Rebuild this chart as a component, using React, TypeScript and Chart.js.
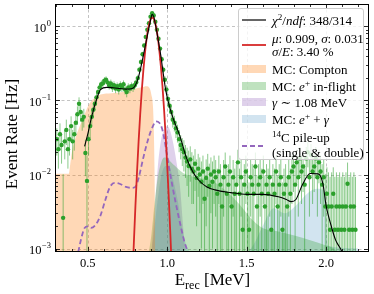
import React, { useEffect, useRef } from 'react';
import { Chart, registerables } from 'chart.js';

Chart.register(...registerables);

// ---------- data ----------
const BIN_START = 0.305;
const BIN_WIDTH = 0.01;

const RATE = [
  // 0.305 - 0.495
  0.03, 0.022, 0.035, 0.025, 0.0026, 0.028, 0.04, 0.022, 0.03, 0.045,
  0.028, 0.035, 0.05, 0.065, 0.09, 0.07, 0.055, 0.06, 0.0195, 0.0082,
  // 0.505 - 0.585
  0.03, 0.045, 0.06, 0.075, 0.09, 0.11, 0.13, 0.15, 0.165,
  // 0.595 - 0.805
  0.17, 0.185, 0.19, 0.175, 0.16, 0.17, 0.15, 0.16, 0.145, 0.155, 0.14,
  0.16, 0.15, 0.165, 0.14, 0.13, 0.15, 0.145, 0.155, 0.15, 0.16, 0.175,
  // 0.815 - 1.095
  0.2, 0.26, 0.33, 0.42, 0.55, 0.72, 0.9, 1.1, 1.35, 1.5,
  1.4, 1.15, 0.9, 0.68, 0.5, 0.36, 0.26, 0.19, 0.14, 0.105,
  0.085, 0.07, 0.055, 0.05, 0.042, 0.037, 0.03, 0.025, 0.022,
  // 1.105 - 1.295
  0.02, 0.017, 0.015, 0.013, 0.016, 0.012, 0.011, 0.014, 0.009, 0.012,
  0.01, 0.008, 0.011, 0.0047, 0.009, 0.012, 0.007, 0.01, 0.008, 0.011,
  // 1.305 - 1.775
  0.0092, 0.0055, 0.011, 0.0073, 0.0037, 0.0092, 0.0128, 0.0055, 0.0073, 0.011,
  0.0037, 0.0092, 0.0055, 0.0073, 0.0146, 0.0055, 0.0092, 0.0018, 0.0073, 0.011,
  0.0055, 0.0018, 0.0092, 0.0073, 0.0055, 0.0128, 0.0037, 0.0073, 0.0092, 0.0055,
  0.011, 0.0037, 0.0073, 0.0055, 0.0092, 0.0018, 0.0073, 0.0055, 0.011, 0.0037,
  0.0073, 0.0092, 0.0018, 0.0055, 0.0073, 0.0037, 0.0092, 0.0055,
  // 1.785 - 1.995
  0.011, 0.0128, 0.0073, 0.0146, 0.0092, 0.0165, 0.011, 0.0128, 0.0073, 0.0165,
  0.02, 0.0092, 0.0183, 0.011, 0.0128, 0.0165, 0.0092, 0.0146, 0.011, 0.0073,
  0.0092, 0.0037,
  // 2.005 - 2.185
  0.0055, 0.0037, 0.0018, 0.0037, 0.0055, 0.0018, 0.0037, 0.0018, 0.0037, 0.0018,
  0.0037, 0.0018, 0.0037, 0.0075, 0.0018, 0.0037, 0.0018, 0.0037, 0.0018,
];

const RATE_ERR = [
  0.012, 0.01, 0.014, 0.011, 0.0075, 0.012, 0.015, 0.01, 0.012, 0.016,
  0.012, 0.014, 0.016, 0.018, 0.02, 0.018, 0.016, 0.017, 0.01, 0.01,
  0.012, 0.014, 0.015, 0.016, 0.017, 0.018, 0.019, 0.02, 0.021,
  0.021, 0.021, 0.021, 0.021, 0.02, 0.021, 0.02, 0.021, 0.02, 0.02, 0.02,
  0.021, 0.02, 0.021, 0.02, 0.02, 0.02, 0.02, 0.02, 0.02, 0.021, 0.021,
  0.022, 0.025, 0.028, 0.032, 0.036, 0.04, 0.045, 0.05, 0.055, 0.058,
  0.056, 0.05, 0.045, 0.04, 0.034, 0.03, 0.026, 0.023, 0.02, 0.017,
  0.015, 0.014, 0.012, 0.012, 0.011, 0.01, 0.01, 0.009, 0.009,
  0.009, 0.008, 0.008, 0.008, 0.008, 0.008, 0.007, 0.008, 0.007, 0.007,
  0.007, 0.007, 0.007, 0.007, 0.007, 0.007, 0.007, 0.007, 0.007, 0.007,
  0.0065, 0.0065, 0.007, 0.0065, 0.006, 0.0065, 0.007, 0.0065, 0.0065, 0.007,
  0.006, 0.0065, 0.0065, 0.0065, 0.007, 0.0065, 0.0065, 0.006, 0.0065, 0.007,
  0.0065, 0.006, 0.0065, 0.0065, 0.0065, 0.007, 0.006, 0.0065, 0.0065, 0.0065,
  0.007, 0.006, 0.0065, 0.0065, 0.0065, 0.006, 0.0065, 0.0065, 0.007, 0.006,
  0.0065, 0.0065, 0.006, 0.0065, 0.0065, 0.006, 0.0065, 0.0065,
  0.007, 0.007, 0.0065, 0.007, 0.0065, 0.007, 0.007, 0.007, 0.0065, 0.007,
  0.0075, 0.0065, 0.0075, 0.007, 0.007, 0.007, 0.0065, 0.007, 0.007, 0.0065,
  0.0065, 0.0065,
  0.007, 0.007, 0.0075, 0.007, 0.007, 0.0075, 0.007, 0.0075, 0.007, 0.0075,
  0.007, 0.0075, 0.007, 0.007, 0.0075, 0.007, 0.0075, 0.007, 0.0075,
];

// total fit (black)
const FIT_E = [0.48, 0.5, 0.52, 0.55, 0.58, 0.62, 0.66, 0.7, 0.74, 0.78, 0.8, 0.82, 0.84, 0.86, 0.88,
  0.895, 0.905, 0.915, 0.93, 0.945, 0.96, 0.975, 0.99, 1.01, 1.04, 1.08, 1.12, 1.16, 1.2, 1.25,
  1.3, 1.4, 1.5, 1.6, 1.7, 1.75, 1.78, 1.81, 1.85, 1.9, 1.95, 1.98, 2.0, 2.03, 2.06, 2.09, 2.12];
const FIT_V = [0.024, 0.035, 0.055, 0.095, 0.14, 0.15, 0.148, 0.145, 0.142, 0.145, 0.16, 0.21, 0.32, 0.52, 0.85,
  1.2, 1.45, 1.35, 0.95, 0.62, 0.4, 0.23, 0.14, 0.09, 0.055, 0.033, 0.017, 0.011, 0.0083, 0.0068,
  0.0062, 0.0057, 0.0054, 0.0054, 0.005, 0.0046, 0.0043, 0.0046, 0.0072, 0.0103, 0.0102, 0.0075, 0.0038, 0.0021, 0.0013, 0.001, 0.0007];

// gaussian peak (red)
const GAUSS_E = [0.78, 0.79, 0.8, 0.81, 0.82, 0.83, 0.84, 0.85, 0.86, 0.87, 0.88, 0.89, 0.9,
  0.91, 0.92, 0.93, 0.94, 0.95, 0.96, 0.97, 0.98, 0.99, 1.0, 1.01, 1.02, 1.03];
const GAUSS_V = [0.00034, 0.0012, 0.0038, 0.0109, 0.0282, 0.0654, 0.137, 0.258, 0.439, 0.673, 0.928, 1.155, 1.295,
  1.309, 1.192, 0.978, 0.723, 0.482, 0.29, 0.157, 0.0764, 0.0336, 0.0133, 0.00475, 0.00153, 0.00044];

// 14C pile-up (dashed purple)
const PILEUP_E = [0.44, 0.46, 0.48, 0.5, 0.52, 0.55, 0.58, 0.61, 0.64, 0.67, 0.7, 0.74, 0.78, 0.8, 0.82,
  0.85, 0.88, 0.91, 0.93, 0.95, 0.97, 0.99, 1.01, 1.03, 1.05, 1.07, 1.09, 1.11, 1.13];
const PILEUP_V = [0.0009, 0.0014, 0.0019, 0.002, 0.0019, 0.0021, 0.0028, 0.0045, 0.0068, 0.0077, 0.0075, 0.0068, 0.0066, 0.0068, 0.009,
  0.017, 0.03, 0.045, 0.052, 0.05, 0.04, 0.024, 0.013, 0.0075, 0.0045, 0.0028, 0.0018, 0.0012, 0.0009];

// MC: Compton (orange)
const COMPTON_E = [0.3, 0.38, 0.39, 0.4, 0.42, 0.45, 0.48, 0.51, 0.55, 0.58, 0.65, 0.72, 0.78, 0.84, 0.87,
  0.89, 0.9, 0.91, 0.915, 0.92, 0.925];
const COMPTON_V = [0.0102, 0.0102, 0.014, 0.02, 0.03, 0.045, 0.065, 0.09, 0.11, 0.12, 0.125, 0.13, 0.14, 0.15, 0.155,
  0.145, 0.12, 0.085, 0.045, 0.012, 0.0008];

// MC: e+ in-flight (green)
const INFLIGHT_E = [0.88, 0.9, 0.92, 0.94, 0.96, 0.98, 1.0, 1.02, 1.05, 1.1, 1.2, 1.27, 1.35, 1.44, 1.54,
  1.6, 1.7, 1.8, 1.9, 2.0, 2.05, 2.09];
const INFLIGHT_V = [0.0008, 0.0015, 0.004, 0.009, 0.014, 0.017, 0.017, 0.015, 0.013, 0.0105, 0.009, 0.0085, 0.0065, 0.0043, 0.0024,
  0.0019, 0.0017, 0.0015, 0.0013, 0.0011, 0.001, 0.0008];

// gamma ~1.08 MeV (purple)
const GAMMA_E = [0.9, 0.92, 0.94, 0.96, 0.98, 1.0, 1.02, 1.04, 1.06, 1.08, 1.1, 1.115];
const GAMMA_V = [0.0009, 0.003, 0.012, 0.028, 0.04, 0.045, 0.038, 0.025, 0.014, 0.007, 0.002, 0.0008];

// MC: e+ + gamma (blue)
const EPG_E = [0.9, 0.93, 0.96, 0.99, 1.01, 1.04, 1.07, 1.1, 1.15, 1.5, 1.55, 1.6, 1.67, 1.74, 1.82,
  1.88, 1.94, 1.99, 2.0, 2.01, 2.2, 2.21];
const EPG_V = [0.0008, 0.003, 0.009, 0.013, 0.013, 0.008, 0.004, 0.0016, 0.0009, 0.0009, 0.0012, 0.002, 0.0035, 0.003, 0.004,
  0.0055, 0.0064, 0.006, 0.003, 0.0011, 0.001, 0.0008];

// axes
const X_MIN = 0.3;
const X_MAX = 2.27;
const Y_MIN = 9e-4;
const Y_MAX = 2;
const X_TICKS = [0.3, 0.4, 0.5, 0.6, 0.7, 0.8, 0.9, 1.0, 1.1, 1.2, 1.3, 1.4, 1.5, 1.6, 1.7, 1.8, 1.9, 2.0, 2.1, 2.2];
const X_LABEL_VALUES = [0.5, 1.0, 1.5, 2.0];
const X_LABELS = ['0.5', '1.0', '1.5', '2.0'];
const Y_DECADES = [0.001, 0.01, 0.1, 1];
const Y_EXPONENTS = ['\u22123', '\u22122', '\u22121', '0'];
const Y_MINOR_FACTORS = [2, 3, 4, 5, 6, 7, 8, 9];

const SERIF = '"Liberation Serif", "DejaVu Serif", serif';

const pts = (E: number[], V: number[]) => E.map((e, i) => ({ x: e, y: V[i] }));

const framePlugin: any = {
  id: 'frame',
  beforeDatasetsDraw(chart: any) {
    const { ctx, chartArea: a, scales } = chart;
    const x = scales.x, y = scales.y;
    ctx.save();
    ctx.strokeStyle = '#b4b4b4';
    ctx.lineWidth = 0.8;
    ctx.setLineDash([3, 2.5]);
    X_LABEL_VALUES.forEach((v) => {
      const px = Math.round(x.getPixelForValue(v)) + 0.5;
      ctx.beginPath(); ctx.moveTo(px, a.top); ctx.lineTo(px, a.bottom); ctx.stroke();
    });
    Y_DECADES.forEach((v) => {
      const py = Math.round(y.getPixelForValue(v)) + 0.5;
      ctx.beginPath(); ctx.moveTo(a.left, py); ctx.lineTo(a.right, py); ctx.stroke();
    });
    ctx.restore();
  },
  beforeDatasetDraw(chart: any, args: any) {
    const ds = chart.data.datasets[args.index];
    if (ds.label !== 'data') return;
    const { ctx, chartArea: a, scales } = chart;
    const x = scales.x, y = scales.y;
    ctx.save();
    ctx.beginPath();
    ctx.rect(a.left, a.top, a.right - a.left, a.bottom - a.top);
    ctx.clip();
    ctx.strokeStyle = 'rgba(44,160,44,0.55)';
    ctx.lineWidth = 1;
    RATE.forEach((v, i) => {
      const e = RATE_ERR[i];
      const px = x.getPixelForValue(BIN_START + i * BIN_WIDTH);
      const lo = v - e;
      const y1 = lo > 0 ? y.getPixelForValue(lo) : a.bottom + 5;
      const y2 = y.getPixelForValue(v + e);
      ctx.beginPath(); ctx.moveTo(px, y1); ctx.lineTo(px, y2); ctx.stroke();
    });
    ctx.restore();
  },
  afterDatasetsDraw(chart: any) {
    const { ctx, chartArea: a, scales } = chart;
    const x = scales.x, y = scales.y;
    ctx.save();
    ctx.strokeStyle = '#000';
    ctx.lineWidth = 1;
    ctx.setLineDash([]);
    const L = Math.round(a.left) - 0.5, R = Math.round(a.right) - 0.5;
    const T = Math.round(a.top) + 0.5, B = Math.round(a.bottom) - 0.5;
    ctx.strokeRect(L, T, R - L, B - T);
    ctx.lineWidth = 0.8;
    // x ticks (inward, bottom and top)
    X_TICKS.forEach((v) => {
      const major = X_LABEL_VALUES.some((m) => Math.abs(m - v) < 1e-6);
      const len = major ? 4.5 : 2.5;
      const px = Math.round(x.getPixelForValue(v)) + 0.5;
      ctx.beginPath();
      ctx.moveTo(px, B); ctx.lineTo(px, B - len);
      ctx.moveTo(px, T); ctx.lineTo(px, T + len);
      ctx.stroke();
    });
    // y ticks (inward, left and right)
    const yt: { v: number; major: boolean }[] = [];
    Y_DECADES.forEach((d) => {
      yt.push({ v: d, major: true });
      Y_MINOR_FACTORS.forEach((f) => yt.push({ v: d * f, major: false }));
    });
    yt.forEach(({ v, major }) => {
      if (v < Y_MIN || v > Y_MAX) return;
      const len = major ? 4.5 : 2.5;
      const py = Math.round(y.getPixelForValue(v)) + 0.5;
      ctx.beginPath();
      ctx.moveTo(L, py); ctx.lineTo(L + len, py);
      ctx.moveTo(R, py); ctx.lineTo(R - len, py);
      ctx.stroke();
    });
    ctx.fillStyle = '#000';
    ctx.textBaseline = 'alphabetic';
    // x tick labels
    ctx.textAlign = 'center';
    ctx.font = `12.5px ${SERIF}`;
    X_LABEL_VALUES.forEach((v, i) => {
      ctx.fillText(X_LABELS[i], x.getPixelForValue(v), 267);
    });
    // y tick labels: 10^n
    ctx.textAlign = 'right';
    Y_DECADES.forEach((d, i) => {
      const py = y.getPixelForValue(d);
      const right = a.left - 5;
      ctx.font = `8.5px ${SERIF}`;
      const ew = ctx.measureText(Y_EXPONENTS[i]).width;
      ctx.fillText(Y_EXPONENTS[i], right, py - 0.5);
      ctx.font = `12.5px ${SERIF}`;
      ctx.fillText('10', right - ew - 0.5, py + 5.5);
    });
    // x title: E_rec [MeV]
    ctx.textAlign = 'left';
    const cx = (a.left + a.right) / 2;
    ctx.font = `17px ${SERIF}`;
    const wE = ctx.measureText('E').width;
    const wRest = ctx.measureText(' [MeV]').width;
    ctx.font = `12px ${SERIF}`;
    const wSub = ctx.measureText('rec').width;
    let sx = cx - (wE + wSub + wRest) / 2;
    const by = 285;
    ctx.font = `17px ${SERIF}`;
    ctx.fillText('E', sx, by);
    sx += wE;
    ctx.font = `12px ${SERIF}`;
    ctx.fillText('rec', sx, by + 3.5);
    sx += wSub;
    ctx.font = `17px ${SERIF}`;
    ctx.fillText(' [MeV]', sx, by);
    // y title
    ctx.translate(17, (a.top + a.bottom) / 2 + 6);
    ctx.rotate(-Math.PI / 2);
    ctx.textAlign = 'center';
    ctx.fillText('Event Rate [Hz]', 0, 0);
    ctx.restore();
  },
};

const supStyle: any = { fontSize: '0.7em', verticalAlign: 'baseline', position: 'relative', top: '-0.5em', lineHeight: 0 };

function LegendBox() {
  const ox = 239, oy = 9;
  const text = (cy: number, content: any) => (
    <div style={{ position: 'absolute', left: 272 - ox, top: cy - oy, transform: 'translateY(-50%)', whiteSpace: 'nowrap', lineHeight: 1 }}>{content}</div>
  );
  const handle = (cy: number, kind: string, color: string, dash?: boolean) => (
    <svg style={{ position: 'absolute', left: 242 - ox, top: cy - oy - 5 }} width={24} height={10}>
      {kind === 'line' ? (
        <line x1={0} y1={5} x2={24} y2={5} stroke={color} strokeWidth={dash ? 1.8 : color === '#000' ? 1.2 : 1.8} strokeDasharray={dash ? '5 3' : undefined} />
      ) : (
        <rect x={0} y={1} width={24} height={8} fill={color} />
      )}
    </svg>
  );
  return (
    <div style={{ position: 'absolute', left: 238, top: 8, width: 126, height: 152, boxSizing: 'border-box', background: 'rgba(255,255,255,0.8)', border: '1px solid #cccccc', borderRadius: 3, fontFamily: SERIF, fontSize: 13, color: '#000' }}>
      {handle(20, 'line', '#000')}
      {text(20, <span><i>χ</i><sup style={supStyle}>2</sup>/<i>ndf</i>: 348/314</span>)}
      {handle(45, 'line', '#d62728')}
      {text(38, <span><i>μ</i>: 0.909, <i>σ</i>: 0.031</span>)}
      {text(51, <span><i>σ</i>/<i>E</i>: 3.40 %</span>)}
      {handle(69, 'rect', 'rgba(255,127,14,0.3)')}
      {text(69, <span>MC: Compton</span>)}
      {handle(86, 'rect', 'rgba(44,160,44,0.3)')}
      {text(86, <span>MC: <i>e</i><sup style={supStyle}>+</sup> in-flight</span>)}
      {handle(102, 'rect', 'rgba(148,103,189,0.3)')}
      {text(102, <span><i>γ</i> ∼ 1.08 MeV</span>)}
      {handle(119, 'rect', 'rgba(31,119,180,0.2)')}
      {text(119, <span>MC: <i>e</i><sup style={supStyle}>+</sup> + <i>γ</i></span>)}
      {handle(146, 'line', '#9467bd', true)}
      {text(137, <span><sup style={supStyle}>14</sup>C pile-up</span>)}
      {text(152, <span>(single &amp; double)</span>)}
    </div>
  );
}

export default function App() {
  const ref = useRef<HTMLCanvasElement | null>(null);
  useEffect(() => {
    document.body.style.margin = '0';
    const canvas = ref.current;
    if (!canvas) return;
    const fillDs = (label: string, E: number[], V: number[], color: string) => ({
      label, data: pts(E, V), fill: 'start', backgroundColor: color, borderWidth: 0, borderColor: 'transparent',
      pointRadius: 0, cubicInterpolationMode: 'monotone', order: 3, clip: 0,
    });
    const chart = new Chart(canvas, {
      type: 'line',
      data: {
        datasets: [
          fillDs('compton', COMPTON_E, COMPTON_V, 'rgba(255,127,14,0.3)'),
          fillDs('inflight', INFLIGHT_E, INFLIGHT_V, 'rgba(44,160,44,0.3)'),
          fillDs('gamma', GAMMA_E, GAMMA_V, 'rgba(148,103,189,0.3)'),
          fillDs('epg', EPG_E, EPG_V, 'rgba(31,119,180,0.2)'),
          {
            label: 'data',
            data: RATE.map((v, i) => ({ x: BIN_START + i * BIN_WIDTH, y: v })),
            showLine: false, pointRadius: 2.2, pointBackgroundColor: '#2ca02c', pointBorderWidth: 0,
            borderColor: '#2ca02c', order: 2, clip: 0,
          },
          {
            label: 'fit', data: pts(FIT_E, FIT_V), borderColor: '#000', borderWidth: 1.1, pointRadius: 0,
            cubicInterpolationMode: 'monotone', fill: false, order: 1, clip: 0,
          },
          {
            label: 'gauss', data: pts(GAUSS_E, GAUSS_V), borderColor: '#d62728', borderWidth: 1.8, pointRadius: 0,
            cubicInterpolationMode: 'monotone', fill: false, order: 1, clip: 0,
          },
          {
            label: 'pileup', data: pts(PILEUP_E, PILEUP_V), borderColor: '#9467bd', borderWidth: 1.8, borderDash: [5, 3],
            pointRadius: 0, cubicInterpolationMode: 'monotone', fill: false, order: 1, clip: 0,
          },
        ] as any,
      },
      options: {
        animation: false,
        responsive: false,
        devicePixelRatio: 1,
        layout: { padding: { top: 4, right: 5, left: 0, bottom: 0 } },
        plugins: { legend: { display: false }, tooltip: { enabled: false } },
        events: [],
        scales: {
          x: {
            type: 'linear', min: X_MIN, max: X_MAX,
            grid: { display: false }, border: { display: false },
            ticks: { display: false },
            afterFit: (s: any) => { s.height = 42; },
          },
          y: {
            type: 'logarithmic', min: Y_MIN, max: Y_MAX,
            grid: { display: false }, border: { display: false },
            ticks: { display: false },
            afterFit: (s: any) => { s.width = 56; },
          },
        },
      } as any,
      plugins: [framePlugin],
    });
    return () => chart.destroy();
  }, []);
  return (
    <div style={{ position: 'relative', width: 374, height: 294, overflow: 'hidden', background: '#fff' }}>
      <canvas ref={ref} width={374} height={294} style={{ width: 374, height: 294, display: 'block' }} />
      <LegendBox />
    </div>
  );
}
